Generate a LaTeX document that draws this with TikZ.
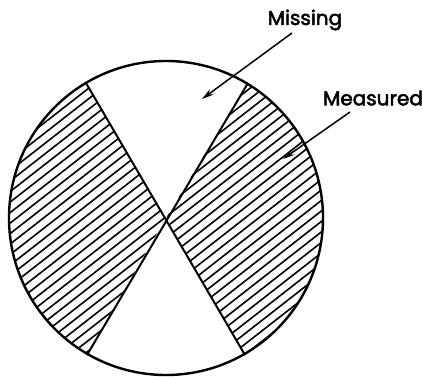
\documentclass[tikz,border=0pt]{standalone}
\usepackage{fontspec}
\setmainfont{Poppins}
\newfontfamily\lblfont[RawFeature={embolden=2.5}]{Poppins}
\usetikzlibrary{arrows.meta}
\tikzset{
  rim/.style={line width=2.4pt},
  divider/.style={line width=2pt},
  hatchline/.style={line width=1.6pt},
  pointer/.style={line width=1.5pt,-{Stealth[length=12pt,width=6.5pt]}},
  lbl/.style={font=\lblfont\fontsize{20}{24}\selectfont, inner sep=0pt}
}
\begin{document}
\begin{tikzpicture}[x=1pt,y=-1pt]
\useasboundingbox (0,0) rectangle (423,377);
\coordinate (C) at (166,218);
\coordinate (P1) at (86,83);
\coordinate (P2) at (245,355);
\coordinate (Q1) at (248,83);
\coordinate (Q2) at (87,355);
% hatched regions
\begin{scope}
  \clip (C) circle (157);
  \clip (C) -- (70,56) -- (0,56) -- (0,382) -- (71,382) -- cycle
        (C) -- (264.4,56) -- (335,56) -- (335,382) -- (260.8,382.4) -- cycle;
  \foreach \b in {0,10.5,...,700} {
    \draw[hatchline] (0,\b) -- (340,\b-265.6);
  }
\end{scope}
% dividing lines
\draw[divider] (P1) -- (P2);
\draw[divider] (Q1) -- (Q2);
% rim
\draw[rim] (C) circle (157);
% labels
\node[lbl] (miss) at (305,20) {Missing};
\node[lbl] (meas) at (373,98) {Measured};
\coordinate (missTip) at (202,99);
\coordinate (measTip) at (283,159);
\draw[pointer] (292,33) -- (missTip);
\draw[pointer] (350,112) -- (measTip);
\end{tikzpicture}
\end{document}
